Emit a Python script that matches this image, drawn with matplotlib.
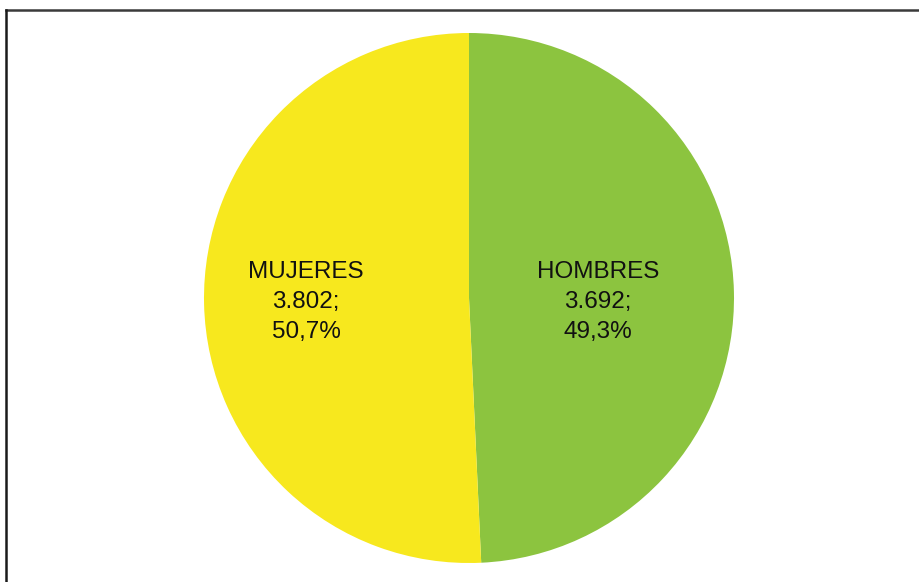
import matplotlib
matplotlib.use("Agg")
import matplotlib.pyplot as plt
from matplotlib.lines import Line2D

categories = ["HOMBRES", "MUJERES"]
values = [3692, 3802]
value_labels = ["3.692", "3.802"]
pct_labels = ["49,3%", "50,7%"]
colors = ["#8CC43F", "#F7E81E"]

W, H = 920, 582
fig = plt.figure(figsize=(W / 100, H / 100), dpi=100)
fig.patch.set_facecolor("white")
ax = fig.add_axes([0, 0, 1, 1])
cx, cy, r = 469, H - 298, 265
ax.pie(values, colors=colors, startangle=90, counterclock=False,
       center=(cx, cy), radius=r, wedgeprops=dict(linewidth=0))
ax.set_xlim(0, W)
ax.set_ylim(0, H)
ax.set_aspect("equal")
ax.axis("off")

# label positions (pixels from top-left)
label_pos = [(598, 302), (306, 302)]
for cat, vl, pl, (x, y) in zip(categories, value_labels, pct_labels, label_pos):
    ax.text(x, H - y, f"{cat}\n{vl};\n{pl}", ha="center", va="center",
            fontsize=17.5, family="Liberation Sans", color="#111111",
            linespacing=1.45)

# frame lines (top and left)
fig.add_artist(Line2D([6.5 / W, 1], [1 - 9.5 / H, 1 - 9.5 / H],
                      transform=fig.transFigure, color="#3a3a3a", lw=1.8))
fig.add_artist(Line2D([6.5 / W, 6.5 / W], [0, 1 - 9.5 / H],
                      transform=fig.transFigure, color="#1a1a1a", lw=1.8))

fig.savefig("out.png", dpi=100, facecolor="white")
